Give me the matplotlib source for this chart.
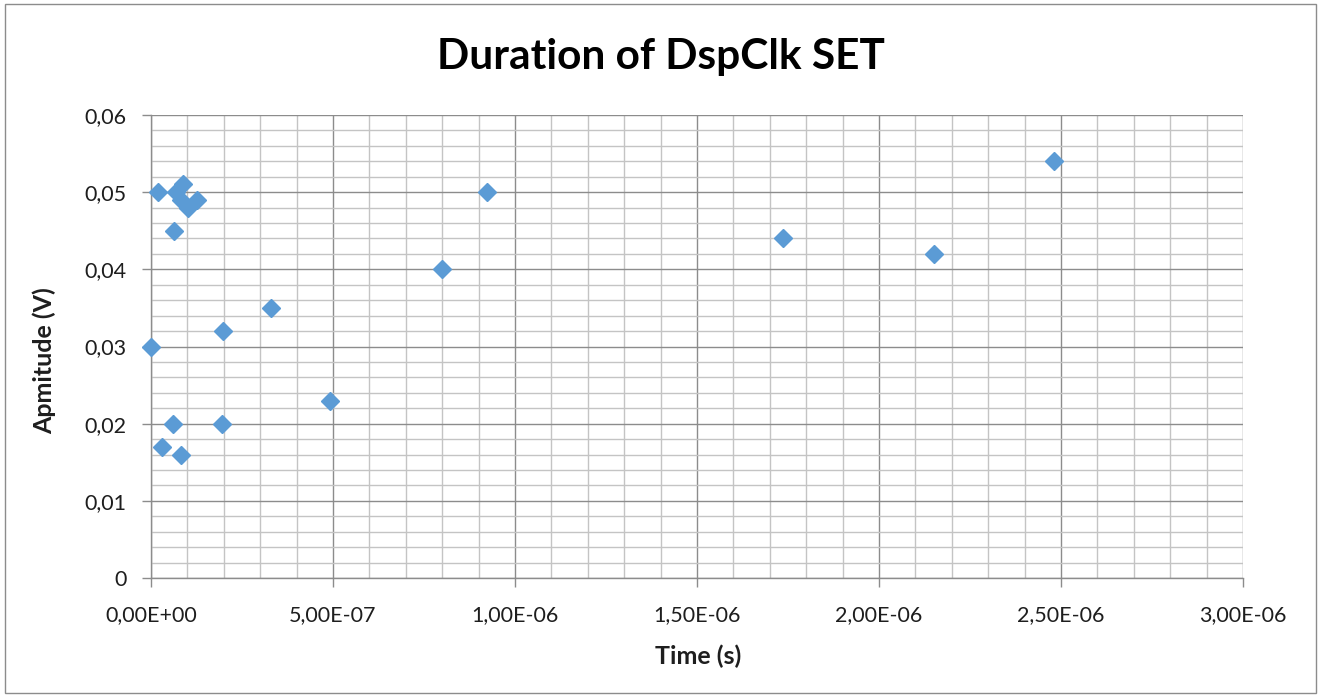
import matplotlib
matplotlib.use("Agg")
import matplotlib.pyplot as plt
from matplotlib.ticker import MultipleLocator, FuncFormatter
from matplotlib.patches import Rectangle

# SET pulse measurements: duration (s) vs amplitude (V)
time_s = [0.0, 1.9e-8, 2.9e-8, 6.3e-8, 6.1e-8, 6.9e-8, 8.2e-8, 8.8e-8, 8.2e-8,
          1.02e-7, 1.26e-7, 1.99e-7, 1.96e-7, 3.3e-7, 4.92e-7, 8.0e-7,
          9.23e-7, 1.736e-6, 2.151e-6, 2.48e-6]
amplitude_v = [0.030, 0.050, 0.017, 0.045, 0.020, 0.050, 0.016, 0.051, 0.049,
               0.048, 0.049, 0.032, 0.020, 0.035, 0.023, 0.040,
               0.050, 0.044, 0.042, 0.054]

plt.rcParams['font.family'] = ['Lato', 'DejaVu Sans']
text_col = '#1E1E1E'

fig = plt.figure(figsize=(13.21, 6.97), dpi=100)
ax = fig.add_axes([0.1143, 0.1707, 0.8267, 0.6643])

ax.plot(time_s, amplitude_v, linestyle='none', marker='D', markersize=9.5,
        color='#5B9BD5', markeredgecolor='#5B9BD5', zorder=3, clip_on=False)

ax.set_xlim(0, 3e-6)
ax.set_ylim(0, 0.06)
ax.xaxis.set_major_locator(MultipleLocator(5e-7))
ax.xaxis.set_minor_locator(MultipleLocator(1e-7))
ax.yaxis.set_major_locator(MultipleLocator(0.01))
ax.yaxis.set_minor_locator(MultipleLocator(0.002))

def sci_comma(v, pos):
    s = f"{v:.2E}"
    return s.replace('.', ',')

def dec_comma(v, pos):
    if abs(v) < 1e-12:
        return "0"
    return f"{v:.2f}".replace('.', ',')

ax.xaxis.set_major_formatter(FuncFormatter(sci_comma))
ax.yaxis.set_major_formatter(FuncFormatter(dec_comma))

ax.grid(which='major', color='#8C8C8C', linewidth=1.0)
ax.grid(which='minor', color='#C4C4C4', linewidth=1.0)
ax.set_axisbelow(True)

for side in ('top', 'right'):
    ax.spines[side].set_visible(False)
for side in ('left', 'bottom'):
    ax.spines[side].set_color('#8C8C8C')
    ax.spines[side].set_linewidth(1.0)

ax.tick_params(which='major', direction='out', length=6.5, width=1.0,
               color='#8C8C8C', labelsize=15.5, labelcolor=text_col)
ax.tick_params(axis='y', pad=11)
ax.tick_params(axis='x', pad=13)
ax.tick_params(which='minor', length=0)

ax.set_xlabel("Time (s)", fontsize=18, fontweight='bold', color=text_col)
ax.set_ylabel("Apmitude (V)", fontsize=18, fontweight='bold', color=text_col)
ax.xaxis.label.set_va('center')
ax.yaxis.label.set_va('center')
ax.xaxis.set_label_coords(0.501, -0.168)
ax.yaxis.set_label_coords(-0.098, 0.47)

fig.text(0.5, 1 - 69 / 697, "Duration of DspClk SET", ha='center', va='baseline',
         fontsize=30.5, fontweight='bold', color='#000000')

# chart area border
fig.patches.append(Rectangle((0.004, 0.006), 0.992, 0.988, transform=fig.transFigure,
                             fill=False, edgecolor='#8C8C8C', linewidth=1.0))

fig.savefig("out.png", dpi=100)
